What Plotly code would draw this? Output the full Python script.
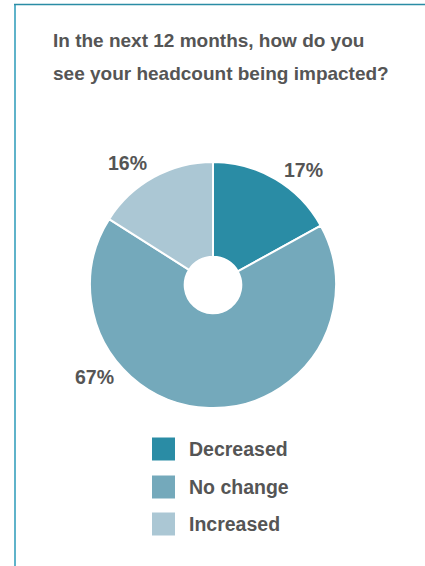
import plotly.graph_objects as go

labels = ["Decreased", "No change", "Increased"]
values = [17, 67, 16]
colors = ["#2a8ca5", "#74a9bb", "#abc7d4"]
title_lines = ["In the next 12 months, how do you", "see your headcount being impacted?"]

W, H = 425, 566

def px(x):
    return x / W

def py(y):
    return 1 - y / H

fig = go.Figure()
fig.add_trace(go.Pie(
    labels=labels,
    values=values,
    marker=dict(colors=colors, line=dict(color="white", width=2)),
    hole=0.23,
    sort=False,
    direction="clockwise",
    rotation=0,
    textinfo="none",
    hoverinfo="label+percent",
    showlegend=False,
    domain=dict(x=[px(90), px(336)], y=[py(408), py(162)]),
))

font_txt = "Liberation Sans, Arial, sans-serif"
grey = "#555555"

annotations = []
# title (two lines)
for line, ty in zip(title_lines, [41, 73]):
    annotations.append(dict(
        x=px(51), y=py(ty), xref="paper", yref="paper", xanchor="left", yanchor="middle",
        text="<b>" + line + "</b>",
        showarrow=False, align="left",
        font=dict(family=font_txt, size=19, color=grey),
    ))
# percentage labels
label_pos = [(303, 170), (94, 377), (128, 163)]
for v, (lx, ly) in zip(values, label_pos):
    annotations.append(dict(
        x=px(lx), y=py(ly), xref="paper", yref="paper", xanchor="center", yanchor="middle",
        text="<b>%d%%</b>" % v, showarrow=False,
        font=dict(family=font_txt, size=19.5, color=grey),
    ))

shapes = []
# custom legend
rows = [449, 487, 524]
for lab, col, ry in zip(labels, colors, rows):
    shapes.append(dict(type="rect", xref="paper", yref="paper",
                       x0=px(152), x1=px(175), y0=py(ry + 11.5), y1=py(ry - 11.5),
                       fillcolor=col, line=dict(width=0)))
    annotations.append(dict(
        x=px(187), y=py(ry), xref="paper", yref="paper", xanchor="left", yanchor="middle",
        text="<b>" + lab + "</b>", showarrow=False,
        font=dict(family=font_txt, size=19.5, color=grey),
    ))

# frame lines
shapes.append(dict(type="line", xref="paper", yref="paper",
                   x0=px(15), x1=px(15), y0=0, y1=py(4),
                   line=dict(color="#5fb3ca", width=2)))
shapes.append(dict(type="line", xref="paper", yref="paper",
                   x0=px(14), x1=1, y0=py(4.5), y1=py(4.5),
                   line=dict(color="#2a8ca5", width=1.5)))

fig.update_layout(
    width=W, height=H,
    margin=dict(l=0, r=0, t=0, b=0),
    paper_bgcolor="white",
    plot_bgcolor="white",
    annotations=annotations,
    shapes=shapes,
)

fig.write_html("out.html")
